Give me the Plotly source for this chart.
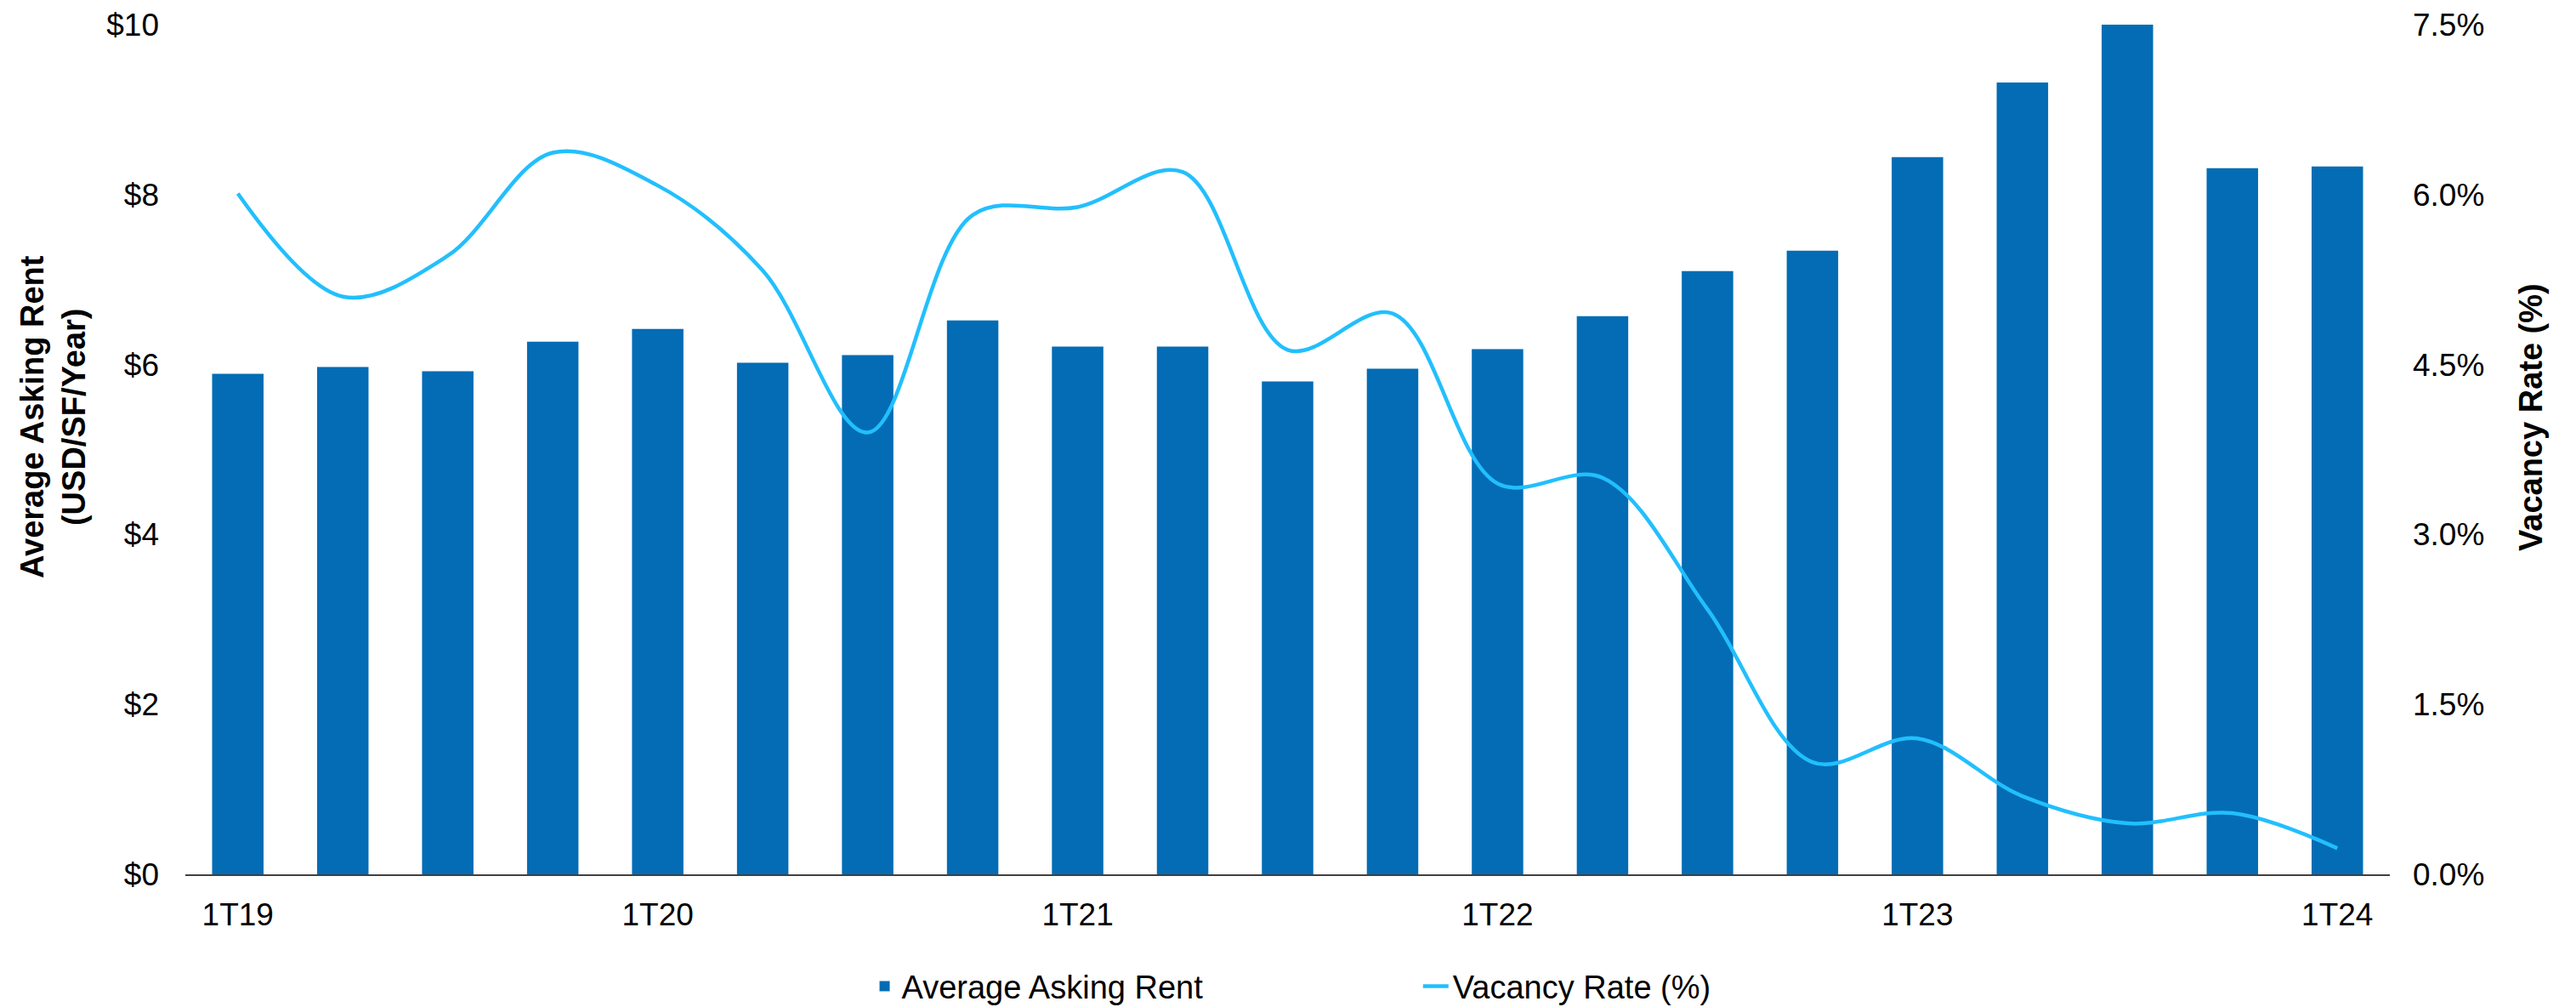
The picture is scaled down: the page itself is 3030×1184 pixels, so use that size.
import plotly.graph_objects as go

# Quarterly labels, 1T19 through 1T24
quarters = [
    "1T19", "2T19", "3T19", "4T19",
    "1T20", "2T20", "3T20", "4T20",
    "1T21", "2T21", "3T21", "4T21",
    "1T22", "2T22", "3T22", "4T22",
    "1T23", "2T23", "3T23", "4T23",
    "1T24",
]
# Average asking rent, USD per square foot per year
asking_rent = [
    5.89, 5.97, 5.92, 6.27,
    6.42, 6.02, 6.11, 6.52,
    6.21, 6.21, 5.80, 5.95,
    6.18, 6.57, 7.10, 7.34,
    8.44, 9.32, 10.00, 8.31,
    8.33,
]
# Vacancy rate, percent
vacancy_rate = [
    6.01, 5.10, 5.46, 6.37,
    6.08, 5.33, 3.90, 5.82,
    5.89, 6.20, 4.63, 4.95,
    3.45, 3.50, 2.34, 0.99,
    1.20, 0.69, 0.45, 0.54,
    0.23,
]
x_tick_labels = ["1T19", "1T20", "1T21", "1T22", "1T23", "1T24"]

FONT = "Liberation Sans, Arial, sans-serif"
BAR_BLUE = "#036CB5"
LINE_BLUE = "#22BFFD"

fig = go.Figure()

fig.add_trace(go.Bar(
    x=quarters,
    y=asking_rent,
    name="Average Asking Rent",
    marker=dict(color=BAR_BLUE, line=dict(width=0)),
    yaxis="y",
    legend="legend",
))

fig.add_trace(go.Scatter(
    x=quarters,
    y=vacancy_rate,
    name="Vacancy Rate (%)",
    mode="lines",
    line=dict(color=LINE_BLUE, width=4.5, shape="spline", smoothing=1.0),
    yaxis="y2",
    legend="legend2",
))

fig.update_layout(
    width=3030,
    height=1184,
    margin=dict(l=218, r=219, t=29, b=156, autoexpand=False),
    paper_bgcolor="white",
    plot_bgcolor="white",
    font=dict(family=FONT, size=37, color="#000000"),
    bargap=0.51,
    showlegend=True,
    xaxis=dict(
        type="category",
        tickmode="array",
        tickvals=x_tick_labels,
        ticktext=x_tick_labels,
        showgrid=False,
        showline=True,
        linecolor="#404040",
        linewidth=2,
        ticks="",
        ticklabelstandoff=14,
        tickfont=dict(size=37),
    ),
    yaxis=dict(
        range=[0, 10],
        dtick=2,
        tickprefix="$",
        tickformat="d",
        showgrid=False,
        zeroline=False,
        showline=False,
        ticks="",
        ticklabelstandoff=30,
        tickfont=dict(size=37),
    ),
    yaxis2=dict(
        range=[0, 7.5],
        dtick=1.5,
        tickformat=".1f",
        ticksuffix="%",
        overlaying="y",
        side="right",
        showgrid=False,
        zeroline=False,
        showline=False,
        ticks="",
        ticklabelstandoff=26,
        tickfont=dict(size=37),
    ),
    legend=dict(
        orientation="h",
        x=0.3095, xanchor="left",
        y=-0.132, yanchor="middle",
        font=dict(size=38),
        bgcolor="rgba(0,0,0,0)",
    ),
    legend2=dict(
        orientation="h",
        x=0.5595, xanchor="left",
        y=-0.132, yanchor="middle",
        font=dict(size=38),
        bgcolor="rgba(0,0,0,0)",
    ),
    annotations=[
        dict(
            text="<b>Average Asking Rent</b><br><b>(USD/SF/Year)</b>",
            textangle=-90,
            xref="paper", yref="paper",
            x=(62 - 218) / 2593, y=(1028 - 490) / 999,
            xanchor="center", yanchor="middle",
            showarrow=False,
            font=dict(size=38, family=FONT),
        ),
        dict(
            text="<b>Vacancy Rate (%)</b>",
            textangle=-90,
            xref="paper", yref="paper",
            x=(2977 - 218) / 2593, y=(1028 - 491) / 999,
            xanchor="center", yanchor="middle",
            showarrow=False,
            font=dict(size=38, family=FONT),
        ),
    ],
)

fig.write_html("out.html")
